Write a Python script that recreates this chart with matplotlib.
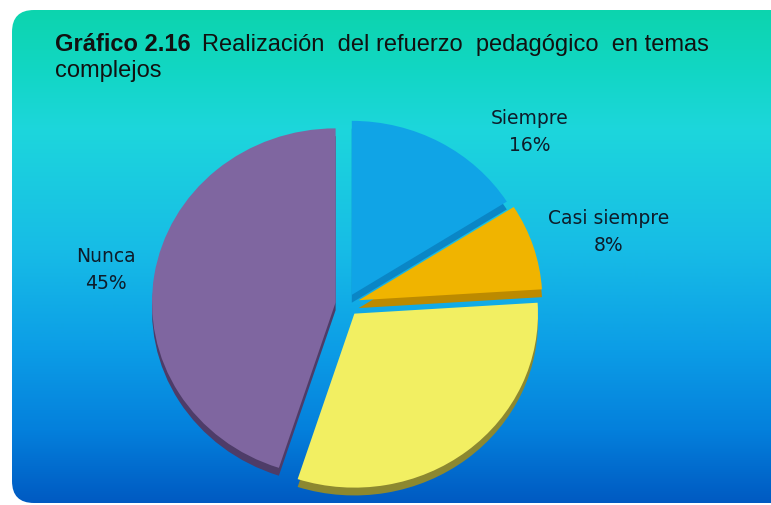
import numpy as np
import matplotlib.pyplot as plt
from matplotlib.patches import FancyBboxPatch
from matplotlib.colors import to_rgb

# data
categorias = ["Siempre", "Casi siempre", "Rara vez", "Nunca"]
porcentajes = [16, 8, 31, 45]
colores = ["#10A4E6", "#F0B400", "#F2EF62", "#7F66A0"]
sombras = ["#0A86C6", "#BC8A00", "#8C8830", "#4E3C68"]
titulo_neg = "Gráfico 2.16"
titulo = "Realización  del refuerzo  pedagógico  en temas"
titulo2 = "complejos"

W, H = 771, 505
fig = plt.figure(figsize=(W / 100, H / 100), dpi=100)
fig.patch.set_facecolor("white")

# background panel with vertical gradient
bg = fig.add_axes([0, 0, 1, 1])
bg.set_xlim(0, W)
bg.set_ylim(H, 0)
bg.axis("off")

stops = [(10, "#0CD4AE"), (70, "#12D7C4"), (130, "#1DD6DC"), (250, "#17BCE6"),
         (350, "#0C9DE6"), (430, "#0480DC"), (503, "#005AC2")]
ys = np.arange(10, 504)
sy = [s[0] for s in stops]
cols = np.array([to_rgb(s[1]) for s in stops])
grad = np.stack([np.interp(ys, sy, cols[:, k]) for k in range(3)], axis=-1)
grad = grad[:, None, :]
im = bg.imshow(grad, extent=(12, 800, 503, 10), aspect="auto", zorder=1)
panel = FancyBboxPatch((12, 10), 790, 493, boxstyle="round,pad=0,rounding_size=22",
                       facecolor="none", edgecolor="none", transform=bg.transData)
bg.add_patch(panel)
im.set_clip_path(panel)

# title
tf = dict(fontsize=17, color="#111111", family="Liberation Sans", zorder=5)
t1 = bg.text(55, 51, titulo_neg, fontweight="bold", va="baseline", **tf)
bg.annotate(titulo, xy=(1, 0), xycoords=t1, xytext=(8, 0), textcoords="offset points",
            va="bottom", **tf)
bg.text(55, 77, titulo2, va="baseline", **tf)

# pie (slightly flattened ellipse like the 3D original)
cx, cy = 346.5, 304
sx, sy_ = 183.6, 174
lim = 1.25
ax = fig.add_axes([(cx - sx * lim) / W, (H - (cy + sy_ * lim)) / H,
                   2 * sx * lim / W, 2 * sy_ * lim / H])
ax.patch.set_alpha(0)
explode = [0.06, 0.07, 0.07, 0.06]
depth = 0.045
ax.pie(porcentajes, colors=sombras, explode=explode, startangle=90, counterclock=False,
       center=(0, -depth), wedgeprops=dict(linewidth=0))
ax.pie(porcentajes, colors=colores, explode=explode, startangle=90, counterclock=False,
       wedgeprops=dict(linewidth=0))
ax.set_aspect("auto")
ax.set_xlim(-lim, lim)
ax.set_ylim(-lim, lim)
ax.axis("off")

# labels
lab = dict(fontsize=13.5, color="#0E1C2A", family="DejaVu Sans", ha="center",
           va="center", zorder=6, linespacing=1.55)
bg.text(530, 132, f"{categorias[0]}\n{porcentajes[0]}%", **lab)
bg.text(609, 232, f"{categorias[1]}\n{porcentajes[1]}%", **lab)
bg.text(106, 270, f"{categorias[3]}\n{porcentajes[3]}%", **lab)
bg.text(452, 357, f"{categorias[2]}; {porcentajes[2]}%", **lab)

fig.savefig("out.png", dpi=100)
